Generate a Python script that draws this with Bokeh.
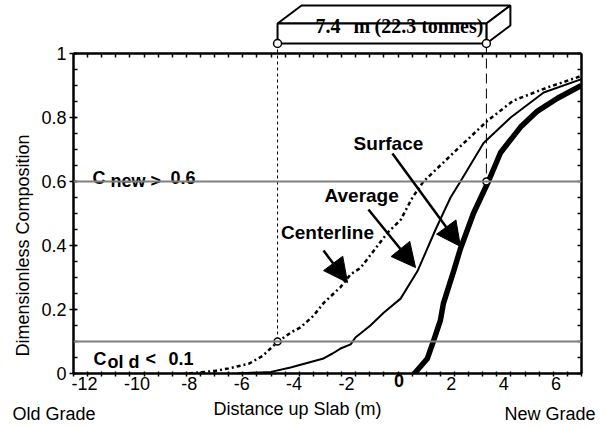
from bokeh.plotting import figure
from bokeh.models import Range1d, LinearAxis, FixedTicker, Arrow, NormalHead, Span
from bokeh.layouts import column
from bokeh.embed import file_html
from bokeh.resources import INLINE
from bokeh.core.properties import value

# ---------------- data ----------------
centerline_x = [-7.9, -7.0, -6.5, -5.8, -5.3, -4.75, -4.3, -3.96, -3.5, -3.14, -2.54, -2.18,
                -1.83, -0.87, -0.41, 0.01, 0.40, 1.47, 2.67, 3.59, 4.8, 6.0]
centerline_y = [0.0, 0.008, 0.016, 0.03, 0.055, 0.10, 0.128, 0.144, 0.18, 0.22, 0.27, 0.31,
                0.33, 0.44, 0.48, 0.55, 0.60, 0.69, 0.79, 0.853, 0.894, 0.93]

average_x = [-6.2, -5.0, -4.31, -3.14, -2.82, -2.54, -2.18, -2.01, -1.48, -1.01, -0.41, 0.19,
             0.83, 1.36, 1.71, 2.53, 3.49, 4.66, 6.0]
average_y = [0.0, 0.005, 0.019, 0.047, 0.0625, 0.078, 0.091, 0.1125, 0.15, 0.19, 0.234, 0.32,
             0.45, 0.55, 0.60, 0.72, 0.80, 0.878, 0.92]

surface_x = [0.08, 0.54, 0.76, 1.0, 1.11, 1.47, 1.71, 2.17, 2.7, 3.13, 3.84, 4.44, 5.15, 6.0]
surface_y = [0.0, 0.047, 0.103, 0.166, 0.22, 0.32, 0.39, 0.50, 0.60, 0.69, 0.77, 0.82, 0.86, 0.90]

x_ticks = [-12, -10, -8, -6, -4, -2, 0, 2, 4, 6]
y_ticks = [0, 0.2, 0.4, 0.6, 0.8, 1.0]

c_new_threshold = 0.6
c_old_threshold = 0.1
slab_start = -4.77
slab_length = 7.4
slab_texts = ["7.4", "m", "(22.3 tonnes)"]

# ---------------- layout constants ----------------
FONT = "Liberation Sans"
X_MIN, X_MAX = -12, 6
Y_MIN, Y_MAX = 0, 1
PX_X = 508 / (X_MAX - X_MIN)      # pixels per metre
PX_Y = 320                        # pixels per unit composition
FRAME_TOP_PX = 53                 # page pixels above the plot box used for the slab
slab_end = slab_start + slab_length


def y_page(page_y):
    """data y for a page pixel row (frame bottom is page row 373)."""
    return (FRAME_TOP_PX + PX_Y - page_y) / PX_Y


def bare(axis):
    axis.axis_line_color = None
    axis.major_tick_line_color = None
    axis.minor_tick_line_color = None
    axis.major_tick_in = 0
    axis.major_tick_out = 0
    axis.major_label_text_font = FONT
    axis.major_label_text_font_size = "18px"
    axis.major_label_text_color = "black"


xr = Range1d(X_MIN, X_MAX)
p = figure(width=605, height=397, x_range=xr,
           y_range=Range1d(Y_MIN, Y_MAX + FRAME_TOP_PX / PX_Y),
           output_backend="svg", toolbar_location=None,
           min_border_left=73, min_border_right=24, min_border_top=0, min_border_bottom=24,
           x_axis_location=None, y_axis_location=None)
p.grid.grid_line_color = None
p.outline_line_color = None

x_minor = [X_MIN + 0.5 * i for i in range(37)]
y_minor = [round(0.05 * i, 2) for i in range(21)]


def style_axis(axis, tin, tout, mtin, mtout):
    axis.axis_line_width = 2.5
    axis.axis_line_color = "black"
    axis.major_tick_in = tin
    axis.major_tick_out = tout
    axis.minor_tick_in = mtin
    axis.minor_tick_out = mtout
    axis.major_tick_line_width = 1.5
    axis.minor_tick_line_width = 1.5
    axis.major_label_standoff = 0


# bottom edge: ticks only
bx = LinearAxis(ticker=FixedTicker(ticks=[], minor_ticks=x_minor))
style_axis(bx, 0, 0, 2, 3)
p.add_layout(bx, "below")

# bottom tick labels (compressed spacing as in the original)
p.extra_x_ranges = {"lab": Range1d(-12.42, 6.97)}
plain_ticks = [t for t in x_ticks if t != 0]
lx = LinearAxis(x_range_name="lab", ticker=FixedTicker(ticks=plain_ticks),
                major_label_overrides={t: str(t) for t in plain_ticks}, major_label_standoff=0)
bare(lx)
p.add_layout(lx, "below")
# the bold zero, pulled up onto the same row
zx = LinearAxis(x_range_name="lab", ticker=FixedTicker(ticks=[0]),
                major_label_overrides={0: "0"}, major_label_standoff=-19)
bare(zx)
zx.major_label_text_font_style = "bold"
p.add_layout(zx, "below")

# left axis
ly = LinearAxis(ticker=FixedTicker(ticks=y_ticks, minor_ticks=y_minor), bounds=(Y_MIN, Y_MAX),
                major_label_overrides={t: f"{t:g}" for t in y_ticks},
                major_label_text_font=FONT, major_label_text_font_size="18px",
                major_label_text_color="black")
style_axis(ly, 3, 4, 4, 0)
ly.major_label_standoff = 3
p.add_layout(ly, "left")

# y title, placed where the original has it
y_title_at = 0.40
yt_axis = LinearAxis(ticker=FixedTicker(ticks=[y_title_at]),
                     major_label_overrides={y_title_at: "Dimensionless Composition"},
                     major_label_orientation="vertical", major_label_standoff=6)
bare(yt_axis)
p.add_layout(yt_axis, "left")

# right edge and top edge: ticks only
ry = LinearAxis(ticker=FixedTicker(ticks=[], minor_ticks=y_minor), bounds=(Y_MIN, Y_MAX))
style_axis(ry, 0, 0, 4, 0)
p.add_layout(ry, "right")
ty = LinearAxis(ticker=FixedTicker(ticks=[], minor_ticks=x_minor), fixed_location=Y_MAX)
style_axis(ty, 0, 0, 4, 0)
p.add_layout(ty, "above")

# ---------------- slab drawn above the plot box ----------------
depth = 24 / PX_X
yb, yt, yback, yrb = y_page(43), y_page(23), y_page(5), y_page(25)
p.patches(xs=[[slab_start, slab_start + depth, slab_end + depth, slab_end],
              [slab_end, slab_end + depth, slab_end + depth, slab_end],
              [slab_start, slab_start, slab_end, slab_end]],
          ys=[[yt, yback, yback, yt], [yt, yback, yrb, yb], [yb, yt, yt, yb]],
          fill_color="white", line_color="black", line_width=2)
p.text(x=[slab_start] * 3, y=[y_page(25)] * 3, text=slab_texts, x_offset=[38, 76, 97],
       text_font=value("Liberation Serif"), text_font_style="bold",
       text_font_size=value("20px"), text_align="left", text_baseline="alphabetic")

# threshold lines
for loc in (c_new_threshold, c_old_threshold):
    p.add_layout(Span(location=loc, dimension="width", line_color="#808080", line_width=2))

# vertical slab end lines
p.segment(x0=[slab_start], y0=[yb], x1=[slab_start], y1=[c_old_threshold],
          line_color="black", line_width=1, line_dash="3 3")
p.segment(x0=[slab_end], y0=[yb], x1=[slab_end], y1=[c_new_threshold],
          line_color="black", line_width=1, line_dash="10 5")

# curves
p.line(centerline_x, centerline_y, line_color="black", line_width=2.5, line_dash="4 3 2 3")
p.line(average_x, average_y, line_color="black", line_width=2, line_join="round")
p.line(surface_x, surface_y, line_color="black", line_width=5.5, line_join="round")

p.scatter(x=[slab_start, slab_end, slab_start, slab_end],
          y=[yb, yb, c_old_threshold, c_new_threshold], size=[8, 8, 7, 7],
          fill_color="white", line_color="black", line_width=1.5)

# threshold text
p.text(x=[X_MIN] * 3, y=[c_new_threshold] * 3, text=["C", "new >", "0.6"],
       x_offset=[19, 37, 97], y_offset=[-4, -1, -4],
       text_font=value(FONT), text_font_size=value("18px"), text_font_style="bold",
       text_baseline="alphabetic", text_align="left")
p.text(x=[X_MIN] * 4, y=[c_old_threshold] * 4, text=["C", "ol d", "<", "0.1"],
       x_offset=[20, 34, 72, 95], y_offset=[17, 20, 17, 17],
       text_font=value(FONT), text_font_size=value("18px"), text_font_style="bold",
       text_baseline="alphabetic", text_align="left")

# curve names and arrows
names = ["Surface", "Average", "Centerline"]
name_x = [-0.84, -1.79, -3.0]
name_y = [0.72, 0.556, 0.44]
arrow_start = [(-0.70, 0.6875), (-1.55, 0.5125), (-3.14, 0.384)]
arrow_end = [(1.71, 0.397), (0.12, 0.331), (-2.29, 0.284)]
p.text(x=name_x, y=name_y, text=names, text_font=value(FONT), text_font_size=value("19px"),
       text_font_style="bold", text_align="center", text_baseline="middle")
for (xs, ys), (xe, ye) in zip(arrow_start, arrow_end):
    p.add_layout(Arrow(end=NormalHead(size=24, fill_color="black", line_color="black"),
                       x_start=xs, y_start=ys, x_end=xe, y_end=ye,
                       line_color="black", line_width=2.5))

# ---------------- bottom strip: axis title and end labels ----------------
bottom = figure(width=605, height=30, x_range=xr, y_range=Range1d(0, 30),
                output_backend="svg", toolbar_location=None,
                min_border_left=73, min_border_right=24, min_border_top=0, min_border_bottom=0,
                x_axis_location=None, y_axis_location=None)
bottom.grid.grid_line_color = None
bottom.outline_line_color = None
bottom.text(x=[X_MIN], y=[19], text=["Distance up Slab (m)"], x_offset=[224],
            text_font=value(FONT), text_font_size=value("18px"),
            text_align="center", text_baseline="middle")
og = LinearAxis(ticker=FixedTicker(ticks=[14]), major_label_overrides={14: "Old Grade"},
                major_label_standoff=-22)
bare(og)
bottom.add_layout(og, "left")
ng = LinearAxis(ticker=FixedTicker(ticks=[14]), major_label_overrides={14: "New Grade"},
                major_label_standoff=-77)
bare(ng)
bottom.add_layout(ng, "right")

layout = column(p, bottom, spacing=0)
open("out.html", "w").write(file_html(layout, INLINE))
